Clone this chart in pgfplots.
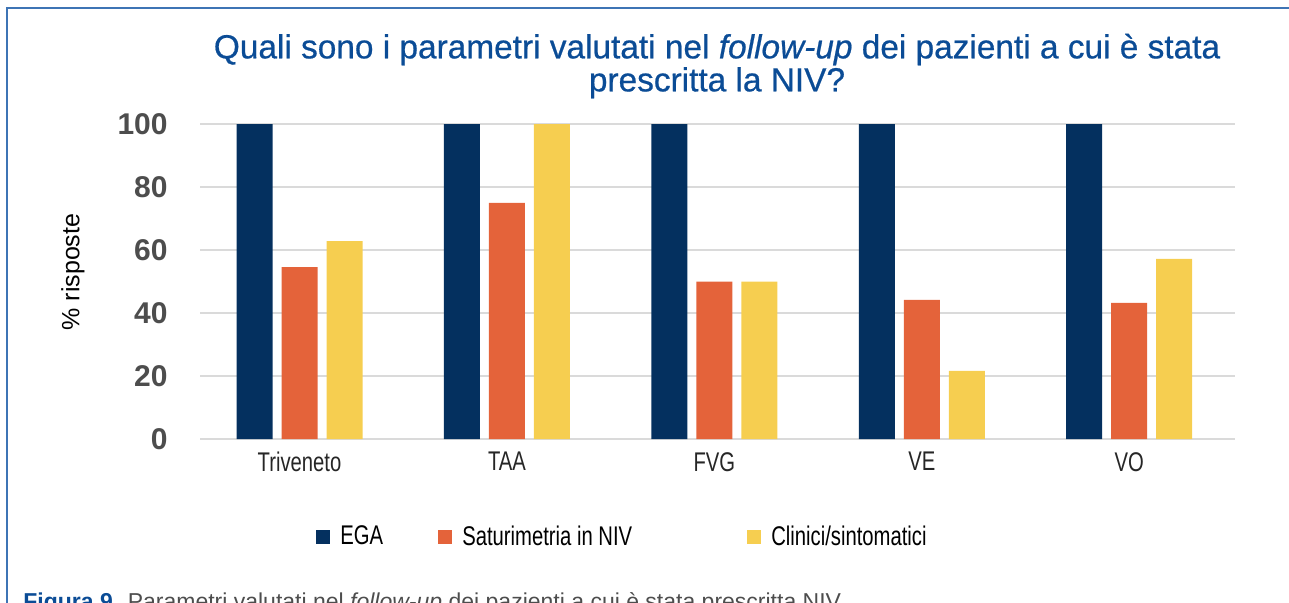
\documentclass[border=0pt]{standalone}
\usepackage{fontspec}
\setmainfont{Liberation Sans}
\newfontfamily\narrow[FakeStretch=0.75]{Liberation Sans}
\newfontfamily\titlefont[FakeBold=0.6]{Liberation Sans}
\usepackage{pgfplots}
\pgfplotsset{compat=1.18}

\definecolor{navy}{RGB}{4,48,95}
\definecolor{arancio}{RGB}{228,99,58}
\definecolor{giallo}{RGB}{246,206,80}
\definecolor{titolo}{RGB}{11,76,150}
\definecolor{cornice}{RGB}{62,116,181}
\definecolor{griglia}{RGB}{218,218,218}
\definecolor{testo}{RGB}{77,77,77}

\begin{document}
\begin{tikzpicture}
  % 1 px of the reference = 0.5pt, origin at top left
  \useasboundingbox (0,0) rectangle (644.5pt,-301pt);
  \clip (0,0) rectangle (644.5pt,-301pt);

  \draw[cornice, line width=0.8pt] (3.5pt,-320pt) -- (3.5pt,-4pt) -- (660pt,-4pt);

  \node[titolo, font=\titlefont\fontsize{16.7}{16.5}\selectfont, align=center, anchor=center]
    at (358.5pt,-33pt)
    {Quali sono i parametri valutati nel \textit{follow-up} dei pazienti a cui è stata\\
     prescritta la NIV?};

  \begin{axis}[
    at={(100pt,-219.5pt)}, anchor=south west,
    scale only axis,
    width=517.5pt, height=157.5pt,
    ybar=4.5pt,
    bar width=18pt,
    xmin=-0.48, xmax=4.51,
    ymin=0, ymax=100,
    xtick={0,1,2,3,4},
    xticklabels={Triveneto,TAA,FVG,VE,VO},
    ytick={0,20,40,60,80,100},
    axis line style={draw=none},
    major tick length=0pt,
    ymajorgrids=true,
    grid style={griglia, line width=1.3pt},
    /pgf/number format/assume math mode=true,
    yticklabel style={font=\fontsize{15}{16}\selectfont\bfseries, text=testo,
      anchor=east, inner sep=0pt, xshift=-16pt},
    xticklabel style={font=\narrow\fontsize{13.5}{15}\selectfont, text=black!85,
      anchor=north, inner sep=0pt, yshift=-6.5pt},
    ylabel={\% risposte},
    every axis y label/.style={at={(axis description cs:-0.1227,0.53)},
      rotate=90, anchor=center, font=\fontsize{12.5}{14}\selectfont},
    legend columns=3,
    legend style={at={(rel axis cs:0.112,-0.311)}, anchor=west, draw=none,
      fill=none, inner sep=0pt, column sep=0pt,
      /tikz/every odd column/.append style={column sep=3pt},
      font=\narrow\fontsize{13.5}{15}\selectfont},
    legend image code/.code={\fill[#1] (0pt,-3.5pt) rectangle (7pt,3.5pt);},
  ]
    \addplot[fill=navy, draw=none] coordinates {(0,100) (1,100) (2,100) (3,100) (4,100)};
    \addplot[fill=arancio, draw=none] coordinates {(0,54.6) (1,75.0) (2,50) (3,44.2) (4,43.2)};
    \addplot[fill=giallo, draw=none] coordinates {(0,62.8) (1,100) (2,50) (3,21.6) (4,57.2)};
    \addlegendentry{\makebox[47pt][l]{EGA}}
    \addlegendentry{\makebox[140.5pt][l]{Saturimetria in NIV}}
    \addlegendentry{Clinici/sintomatici}
  \end{axis}

  \node[anchor=base west, inner sep=0pt, font=\fontsize{11.5}{13}\selectfont, text=testo]
    at (11.5pt,-304.75pt)
    {\textcolor{titolo}{\bfseries Figura 9.} Parametri valutati nel \textit{follow-up} dei pazienti a cui è stata prescritta NIV};
\end{tikzpicture}
\end{document}
